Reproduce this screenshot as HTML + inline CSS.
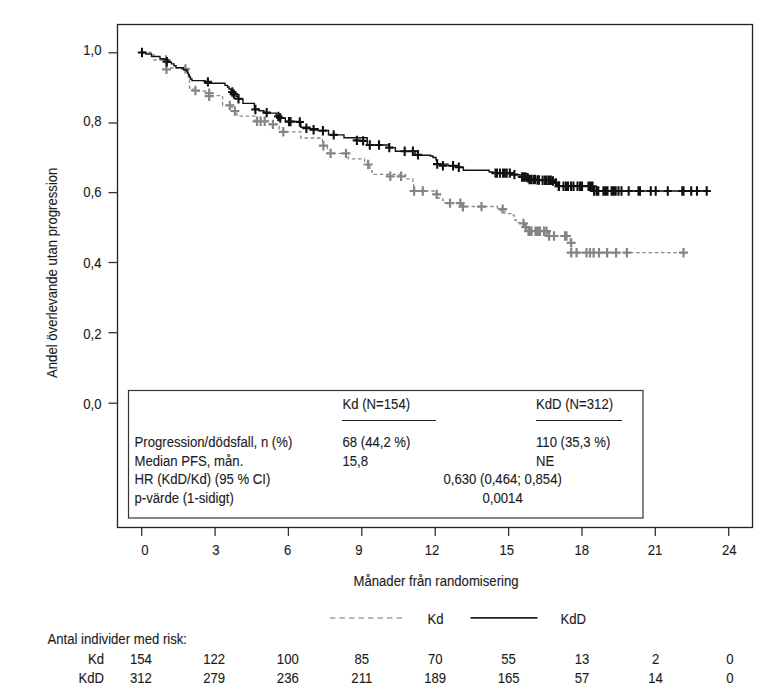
<!DOCTYPE html>
<html><head><meta charset="utf-8"><style>
html,body{margin:0;padding:0;background:#fff;}
svg{display:block;font-family:"Liberation Sans", sans-serif;}
text{stroke:#1c1c1c;stroke-width:0.12px;}
</style></head><body>
<svg width="779" height="693" viewBox="0 0 779 693">
<rect width="779" height="693" fill="#fff"/>
<rect x="117.5" y="24.5" width="635.0" height="503.0" fill="none" stroke="#222" stroke-width="1.3"/>
<line x1="108.5" y1="52.8" x2="117.5" y2="52.8" stroke="#333" stroke-width="1.3"/>
<text transform="translate(101.5,54.800000000000004) scale(0.877,1)" text-anchor="end" font-size="15" fill="#1c1c1c" >1,0</text>
<line x1="108.5" y1="123.0" x2="117.5" y2="123.0" stroke="#333" stroke-width="1.3"/>
<text transform="translate(101.5,126.0) scale(0.877,1)" text-anchor="end" font-size="15" fill="#1c1c1c" >0,8</text>
<line x1="108.5" y1="192.6" x2="117.5" y2="192.6" stroke="#333" stroke-width="1.3"/>
<text transform="translate(101.5,196.7) scale(0.877,1)" text-anchor="end" font-size="15" fill="#1c1c1c" >0,6</text>
<line x1="108.5" y1="262.5" x2="117.5" y2="262.5" stroke="#333" stroke-width="1.3"/>
<text transform="translate(101.5,267.7) scale(0.877,1)" text-anchor="end" font-size="15" fill="#1c1c1c" >0,4</text>
<line x1="108.5" y1="332.7" x2="117.5" y2="332.7" stroke="#333" stroke-width="1.3"/>
<text transform="translate(101.5,338.7) scale(0.877,1)" text-anchor="end" font-size="15" fill="#1c1c1c" >0,2</text>
<line x1="108.5" y1="403.2" x2="117.5" y2="403.2" stroke="#333" stroke-width="1.3"/>
<text transform="translate(101.5,408.7) scale(0.877,1)" text-anchor="end" font-size="15" fill="#1c1c1c" >0,0</text>
<line x1="141.7" y1="527.5" x2="141.7" y2="536" stroke="#333" stroke-width="1.3"/>
<text transform="translate(145,554.6) scale(0.877,1)" text-anchor="middle" font-size="15" fill="#1c1c1c" >0</text>
<line x1="215.1" y1="527.5" x2="215.1" y2="536" stroke="#333" stroke-width="1.3"/>
<text transform="translate(215.9,554.6) scale(0.877,1)" text-anchor="middle" font-size="15" fill="#1c1c1c" >3</text>
<line x1="288.4" y1="527.5" x2="288.4" y2="536" stroke="#333" stroke-width="1.3"/>
<text transform="translate(287.7,554.6) scale(0.877,1)" text-anchor="middle" font-size="15" fill="#1c1c1c" >6</text>
<line x1="361.8" y1="527.5" x2="361.8" y2="536" stroke="#333" stroke-width="1.3"/>
<text transform="translate(358.9,554.6) scale(0.877,1)" text-anchor="middle" font-size="15" fill="#1c1c1c" >9</text>
<line x1="435.2" y1="527.5" x2="435.2" y2="536" stroke="#333" stroke-width="1.3"/>
<text transform="translate(432,554.6) scale(0.877,1)" text-anchor="middle" font-size="15" fill="#1c1c1c" >12</text>
<line x1="508.6" y1="527.5" x2="508.6" y2="536" stroke="#333" stroke-width="1.3"/>
<text transform="translate(506.8,554.6) scale(0.877,1)" text-anchor="middle" font-size="15" fill="#1c1c1c" >15</text>
<line x1="582.0" y1="527.5" x2="582.0" y2="536" stroke="#333" stroke-width="1.3"/>
<text transform="translate(581.8,554.6) scale(0.877,1)" text-anchor="middle" font-size="15" fill="#1c1c1c" >18</text>
<line x1="655.3" y1="527.5" x2="655.3" y2="536" stroke="#333" stroke-width="1.3"/>
<text transform="translate(655,554.6) scale(0.877,1)" text-anchor="middle" font-size="15" fill="#1c1c1c" >21</text>
<line x1="728.7" y1="527.5" x2="728.7" y2="536" stroke="#333" stroke-width="1.3"/>
<text transform="translate(729.3,554.6) scale(0.877,1)" text-anchor="middle" font-size="15" fill="#1c1c1c" >24</text>
<text transform="translate(56.6,378) rotate(-90) scale(0.877,1)" font-size="15" fill="#1c1c1c">Andel överlevande utan progression</text>
<text transform="translate(436,586.3) scale(0.877,1)" text-anchor="middle" font-size="15" fill="#1c1c1c" >Månader från randomisering</text>
<rect x="128.5" y="390.5" width="514.5" height="127.5" fill="#fff" stroke="#333" stroke-width="1.2"/>
<text transform="translate(342.5,408.8) scale(0.877,1)" text-anchor="start" font-size="15" fill="#1c1c1c" >Kd (N=154)</text>
<line x1="342" y1="420.5" x2="436" y2="420.5" stroke="#222" stroke-width="1.1"/>
<text transform="translate(536,408.8) scale(0.877,1)" text-anchor="start" font-size="15" fill="#1c1c1c" >KdD (N=312)</text>
<line x1="536" y1="420.5" x2="622" y2="420.5" stroke="#222" stroke-width="1.1"/>
<text transform="translate(134.5,446.9) scale(0.877,1)" text-anchor="start" font-size="15" fill="#1c1c1c" >Progression/dödsfall, n (%)</text>
<text transform="translate(134.5,465.5) scale(0.877,1)" text-anchor="start" font-size="15" fill="#1c1c1c" >Median PFS, mån.</text>
<text transform="translate(134.5,484.1) scale(0.877,1)" text-anchor="start" font-size="15" fill="#1c1c1c" >HR (KdD/Kd) (95 % CI)</text>
<text transform="translate(134.5,502.7) scale(0.877,1)" text-anchor="start" font-size="15" fill="#1c1c1c" >p-värde (1-sidigt)</text>
<text transform="translate(342.5,446.9) scale(0.877,1)" text-anchor="start" font-size="15" fill="#1c1c1c" >68 (44,2 %)</text>
<text transform="translate(342.5,465.5) scale(0.877,1)" text-anchor="start" font-size="15" fill="#1c1c1c" >15,8</text>
<text transform="translate(536,446.9) scale(0.877,1)" text-anchor="start" font-size="15" fill="#1c1c1c" >110 (35,3 %)</text>
<text transform="translate(536,465.5) scale(0.877,1)" text-anchor="start" font-size="15" fill="#1c1c1c" >NE</text>
<text transform="translate(443.5,484.1) scale(0.877,1)" text-anchor="start" font-size="15" fill="#1c1c1c" >0,630 (0,464; 0,854)</text>
<text transform="translate(482.5,502.7) scale(0.877,1)" text-anchor="start" font-size="15" fill="#1c1c1c" >0,0014</text>
<line x1="330" y1="618" x2="402" y2="618" stroke="#a0a0a0" stroke-width="1.6" stroke-dasharray="5.4 4.1"/>
<text transform="translate(427.5,623.9) scale(0.877,1)" text-anchor="start" font-size="15" fill="#1c1c1c" >Kd</text>
<line x1="470.5" y1="617.8" x2="537.5" y2="617.8" stroke="#222" stroke-width="1.8"/>
<text transform="translate(560.5,623.9) scale(0.877,1)" text-anchor="start" font-size="15" fill="#1c1c1c" >KdD</text>
<text transform="translate(47.5,643.9) scale(0.877,1)" text-anchor="start" font-size="15" fill="#1c1c1c" >Antal individer med risk:</text>
<text transform="translate(104,664.2) scale(0.877,1)" text-anchor="end" font-size="15" fill="#1c1c1c" >Kd</text>
<text transform="translate(104,683.1) scale(0.877,1)" text-anchor="end" font-size="15" fill="#1c1c1c" >KdD</text>
<text transform="translate(140.9,664.2) scale(0.877,1)" text-anchor="middle" font-size="15" fill="#1c1c1c" >154</text>
<text transform="translate(140.9,683.1) scale(0.877,1)" text-anchor="middle" font-size="15" fill="#1c1c1c" >312</text>
<text transform="translate(214.1,664.2) scale(0.877,1)" text-anchor="middle" font-size="15" fill="#1c1c1c" >122</text>
<text transform="translate(214.1,683.1) scale(0.877,1)" text-anchor="middle" font-size="15" fill="#1c1c1c" >279</text>
<text transform="translate(287.8,664.2) scale(0.877,1)" text-anchor="middle" font-size="15" fill="#1c1c1c" >100</text>
<text transform="translate(287.8,683.1) scale(0.877,1)" text-anchor="middle" font-size="15" fill="#1c1c1c" >236</text>
<text transform="translate(361.8,664.2) scale(0.877,1)" text-anchor="middle" font-size="15" fill="#1c1c1c" >85</text>
<text transform="translate(361.8,683.1) scale(0.877,1)" text-anchor="middle" font-size="15" fill="#1c1c1c" >211</text>
<text transform="translate(435.2,664.2) scale(0.877,1)" text-anchor="middle" font-size="15" fill="#1c1c1c" >70</text>
<text transform="translate(435.2,683.1) scale(0.877,1)" text-anchor="middle" font-size="15" fill="#1c1c1c" >189</text>
<text transform="translate(508.6,664.2) scale(0.877,1)" text-anchor="middle" font-size="15" fill="#1c1c1c" >55</text>
<text transform="translate(508.6,683.1) scale(0.877,1)" text-anchor="middle" font-size="15" fill="#1c1c1c" >165</text>
<text transform="translate(582.0,664.2) scale(0.877,1)" text-anchor="middle" font-size="15" fill="#1c1c1c" >13</text>
<text transform="translate(582.0,683.1) scale(0.877,1)" text-anchor="middle" font-size="15" fill="#1c1c1c" >57</text>
<text transform="translate(655.6,664.2) scale(0.877,1)" text-anchor="middle" font-size="15" fill="#1c1c1c" >2</text>
<text transform="translate(655.6,683.1) scale(0.877,1)" text-anchor="middle" font-size="15" fill="#1c1c1c" >14</text>
<text transform="translate(730.0,664.2) scale(0.877,1)" text-anchor="middle" font-size="15" fill="#1c1c1c" >0</text>
<text transform="translate(730.0,683.1) scale(0.877,1)" text-anchor="middle" font-size="15" fill="#1c1c1c" >0</text>
<path d="M142,52.5 H153 V55 H154 V60 H166 V68 H180 V68.5 H184 V69.5 H188.5 V80 H189.5 V88 H193 V91 H209 V95.7 H222.6 V105.4 H232 V111 H237 V116.2 H255 V121.3 H270 V124.4 H279.2 V131.8 H300.8 V138 H322.4 V145.7 H327.5 V153.4 H348.2 V158.9 H364.6 V162.5 H368 V166.5 H370 V170.7 H372 V174.3 H405.7 V178.9 H412.9 V182.5 H413.6 V191 H435.7 V194.4 H436.7 V198 H442.9 V200.5 H445 V203.1 H462 V206.5 H497.6 V208.5 H500.8 V211 H505 V213.6 H513 V215 H514 V218 H515 V220 H516.2 V222.6 H524 V227 H527 V231.2 H547.5 V236 H570.3 V242.9 H571.2 V252.7 H683.5" stroke="#8a8a8a" stroke-width="1.3" fill="none" stroke-dasharray="3.5 2.7"/>
<path d="M161.5,60h9.0M166,55.3v9.4 M162.0,69.3h9.0M166.5,64.6v9.4 M180.9,68.9h9.0M185.4,64.2v9.4 M190.9,90.5h9.0M195.4,85.8v9.4 M204.7,93.1h9.0M209.2,88.39999999999999v9.4 M204.7,96.2h9.0M209.2,91.5v9.4 M225.3,105.4h9.0M229.8,100.7v9.4 M230.4,111h9.0M234.9,106.3v9.4 M252.5,121.3h9.0M257,116.6v9.4 M256.1,121.3h9.0M260.6,116.6v9.4 M260.2,121.3h9.0M264.7,116.6v9.4 M268.4,124.4h9.0M272.9,119.7v9.4 M278.8,131.8h9.0M283.3,127.10000000000001v9.4 M318.9,145.7h9.0M323.4,141.0v9.4 M326.1,153.4h9.0M330.6,148.70000000000002v9.4 M341.5,153.4h9.0M346,148.70000000000002v9.4 M363.7,164.5h9.0M368.2,159.8v9.4 M385.8,176.3h9.0M390.3,171.60000000000002v9.4 M396.6,176.3h9.0M401.1,171.60000000000002v9.4 M409.6,191h9.0M414.1,186.3v9.4 M418.3,191h9.0M422.8,186.3v9.4 M432.2,194.4h9.0M436.7,189.70000000000002v9.4 M445.5,203.1h9.0M450,198.4v9.4 M455.8,203.1h9.0M460.3,198.4v9.4 M458.4,206.7h9.0M462.9,202.0v9.4 M477.0,206.6h9.0M481.5,201.9v9.4 M498.2,209.1h9.0M502.7,204.4v9.4 M519.0,223.5h9.0M523.5,218.8v9.4 M521.2,227h9.0M525.7,222.3v9.4 M524.0,231.2h9.0M528.5,226.5v9.4 M525.5,231.2h9.0M530,226.5v9.4 M527.0,231.2h9.0M531.5,226.5v9.4 M531.0,231.2h9.0M535.5,226.5v9.4 M532.5,231.2h9.0M537,226.5v9.4 M534.0,231.2h9.0M538.5,226.5v9.4 M535.5,231.2h9.0M540,226.5v9.4 M539.5,231.2h9.0M544,226.5v9.4 M542.0,231.2h9.0M546.5,226.5v9.4 M544.6,236h9.0M549.1,231.3v9.4 M549.5,236h9.0M554,231.3v9.4 M560.5,236h9.0M565,231.3v9.4 M562.0,236h9.0M566.5,231.3v9.4 M566.7,242.9h9.0M571.2,238.20000000000002v9.4 M566.7,252.7h9.0M571.2,248.0v9.4 M572.1,252.7h9.0M576.6,248.0v9.4 M582.0,252.7h9.0M586.5,248.0v9.4 M585.5,252.7h9.0M590,248.0v9.4 M589.1,252.7h9.0M593.6,248.0v9.4 M594.5,252.7h9.0M599,248.0v9.4 M602.6,252.7h9.0M607.1,248.0v9.4 M611.6,252.7h9.0M616.1,248.0v9.4 M622.4,252.7h9.0M626.9,248.0v9.4 M679.0,252.7h9.0M683.5,248.0v9.4" stroke="#858585" stroke-width="2.2" fill="none"/>
<path d="M142,52.5 H146 V54.0 H151.5 V56.5 H160 V58.7 H164 V59.5 H168 V62.2 H171.5 V63.9 H174 V65.8 H176 V67.7 H183.5 V69.7 H186.5 V71 H187.5 V73 H188.5 V75 H189.5 V77 H190.5 V79 H192 V80.6 H205 V83.3 H225 V85.4 H227.5 V87 H229 V89 H231 V91.5 H233.5 V94 H236 V96.5 H238.5 V99 H243 V103.4 H254.4 V109 H259 V110.8 H264 V113.1 H276.2 V116 H280 V118 H285.4 V121.5 H300.8 V127.2 H310 V128.8 H318 V130.5 H328.5 V134.9 H344 V137.8 H367.2 V145 H389 V147.6 H395.4 V151.2 H415 V155.3 H430.5 V156 H433 V157.5 H436 V160 H437.2 V164.1 H448 V165.7 H459 V167.2 H463.4 V170.3 H489.2 V172 H493 V173 H512 V174.6 H520 V176.5 H525 V177.7 H530 V180.3 H553 V182.9 H557.2 V185.7 H591 V191 H710.5" stroke="#111" stroke-width="1.4" fill="none"/>
<path d="M137.8,52.5h8.4M142,47.8v9.4 M162.60000000000002,61.8h8.4M166.8,57.099999999999994v9.4 M203.70000000000002,81.9h8.4M207.9,77.2v9.4 M228.10000000000002,92h8.4M232.3,87.3v9.4 M229.70000000000002,94.1h8.4M233.9,89.39999999999999v9.4 M234.3,98.7h8.4M238.5,94.0v9.4 M251.20000000000002,109.5h8.4M255.4,104.8v9.4 M262.5,112.6h8.4M266.7,107.89999999999999v9.4 M274.1,116.5h8.4M278.3,111.8v9.4 M276.1,118h8.4M280.3,113.3v9.4 M284.8,121.6h8.4M289,116.89999999999999v9.4 M286.3,121.6h8.4M290.5,116.89999999999999v9.4 M295.6,122h8.4M299.8,117.3v9.4 M302.2,128.2h8.4M306.4,123.49999999999999v9.4 M309.40000000000003,129.8h8.4M313.6,125.10000000000001v9.4 M318.7,130.8h8.4M322.9,126.10000000000001v9.4 M329.5,134.9h8.4M333.7,130.20000000000002v9.4 M352.7,140.4h8.4M356.9,135.70000000000002v9.4 M358.90000000000003,140.9h8.4M363.1,136.20000000000002v9.4 M365.6,145h8.4M369.8,140.3v9.4 M374.8,145h8.4M379,140.3v9.4 M385.1,147.6h8.4M389.3,142.9v9.4 M400.5,151.2h8.4M404.7,146.5v9.4 M408.7,151.2h8.4M412.9,146.5v9.4 M413.8,154.8h8.4M418,150.10000000000002v9.4 M433.0,164.1h8.4M437.2,159.4v9.4 M438.7,165.7h8.4M442.9,161.0v9.4 M448.90000000000003,165.7h8.4M453.1,161.0v9.4 M454.6,167.2h8.4M458.8,162.5v9.4 M491.3,173.1h8.4M495.5,168.4v9.4 M492.8,173.1h8.4M497,168.4v9.4 M495.8,173.1h8.4M500,168.4v9.4 M498.90000000000003,173.1h8.4M503.1,168.4v9.4 M500.3,173.1h8.4M504.5,168.4v9.4 M502.5,173.1h8.4M506.7,168.4v9.4 M505.6,173.1h8.4M509.8,168.4v9.4 M510.2,174.6h8.4M514.4,169.9v9.4 M517.8,177h8.4M522,172.3v9.4 M519.4,177h8.4M523.6,172.3v9.4 M521.3,177h8.4M525.5,172.3v9.4 M523.5,177.7h8.4M527.7,173.0v9.4 M525.3,179.5h8.4M529.5,174.8v9.4 M526.8,179.5h8.4M531,174.8v9.4 M529.1999999999999,179.5h8.4M533.4,174.8v9.4 M530.8,179.5h8.4M535,174.8v9.4 M533.3,180h8.4M537.5,175.3v9.4 M534.8,180h8.4M539,175.3v9.4 M538.4,180.3h8.4M542.6,175.60000000000002v9.4 M540.8,180.3h8.4M545,175.60000000000002v9.4 M542.5,180.3h8.4M546.7,175.60000000000002v9.4 M544.8,180.3h8.4M549,175.60000000000002v9.4 M546.5999999999999,180.3h8.4M550.8,175.60000000000002v9.4 M548.8,181h8.4M553,176.3v9.4 M551.8,182.9h8.4M556,178.20000000000002v9.4 M554.8,186h8.4M559,181.3v9.4 M554.5,186.2h8.4M558.7,181.5v9.4 M559.3,186.2h8.4M563.5,181.5v9.4 M561.8,186.2h8.4M566,181.5v9.4 M563.8,186.2h8.4M568,181.5v9.4 M566.8,186.2h8.4M571,181.5v9.4 M569.3,186.2h8.4M573.5,181.5v9.4 M573.3,186.2h8.4M577.5,181.5v9.4 M575.8,186.2h8.4M580,181.5v9.4 M577.8,186.2h8.4M582,181.5v9.4 M584.3,186.2h8.4M588.5,181.5v9.4 M586.3,186.2h8.4M590.5,181.5v9.4 M588.3,186.2h8.4M592.5,181.5v9.4 M589.8,191h8.4M594,186.3v9.4 M592.3,191h8.4M596.5,186.3v9.4 M594.0999999999999,191h8.4M598.3,186.3v9.4 M599.1999999999999,191h8.4M603.4,186.3v9.4 M601.3,191h8.4M605.5,186.3v9.4 M603.3,191h8.4M607.5,186.3v9.4 M607.4,191h8.4M611.6,186.3v9.4 M609.5,191h8.4M613.7,186.3v9.4 M611.5,191h8.4M615.7,186.3v9.4 M614.3,191h8.4M618.5,186.3v9.4 M617.3,191h8.4M621.5,186.3v9.4 M624.5,191h8.4M628.7,186.3v9.4 M634.3,191h8.4M638.5,186.3v9.4 M635.8,191h8.4M640,186.3v9.4 M646.5999999999999,191h8.4M650.8,186.3v9.4 M651.5,191h8.4M655.7,186.3v9.4 M663.5999999999999,191h8.4M667.8,186.3v9.4 M678.0999999999999,191h8.4M682.3,186.3v9.4 M679.3,191h8.4M683.5,186.3v9.4 M687.0,191h8.4M691.2,186.3v9.4 M692.8,191h8.4M697,186.3v9.4 M702.5,191h8.4M706.7,186.3v9.4" stroke="#111" stroke-width="2.1" fill="none"/>
</svg>
</body></html>
